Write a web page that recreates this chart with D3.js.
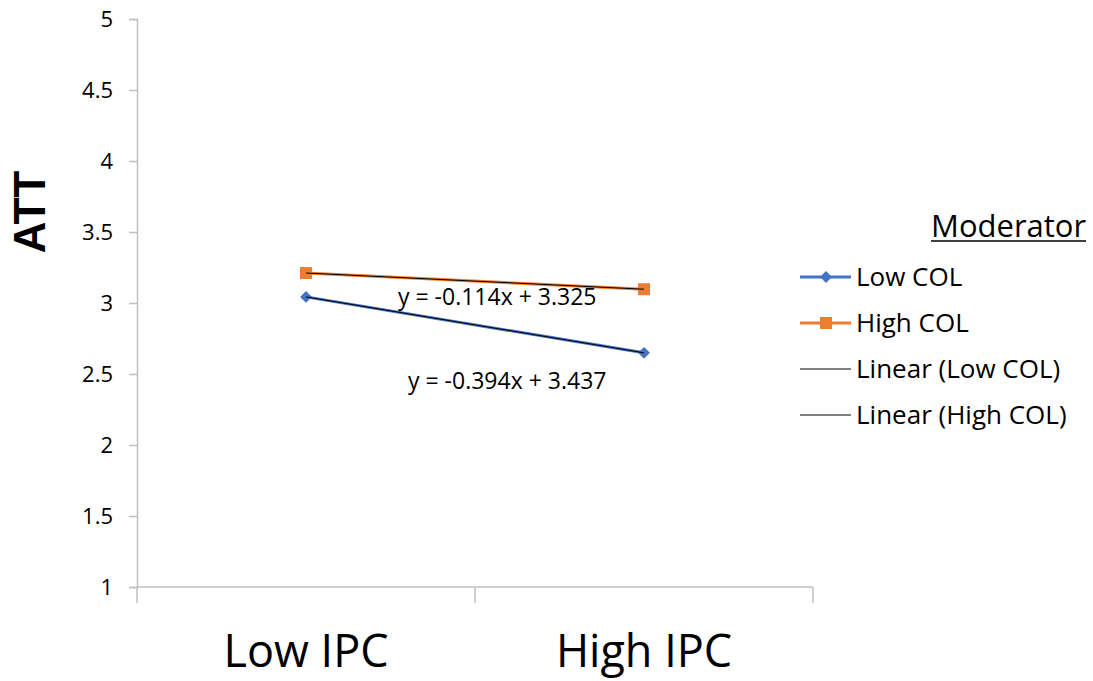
<!DOCTYPE html>
<html>
<head>
<meta charset="utf-8">
<script src="https://cdn.jsdelivr.net/npm/d3@7"></script>
<style>
  body { margin: 0; background: #fff; }
  text { font-family: "Open Sans", sans-serif; fill: #000; }
</style>
</head>
<body>
<script>
// interaction plot, values
var categories = ["Low IPC", "High IPC"],
    lowCOL = [3.043, 2.649],
    highCOL = [3.211, 3.097],
    yTicks = [1, 1.5, 2, 2.5, 3, 3.5, 4, 4.5, 5],
    seriesNames = ["Low COL", "High COL"],
    trendLabels = ["y = -0.394x + 3.437", "y = -0.114x + 3.325"],
    trendSlope = [-0.394, -0.114],
    trendIntercept = [3.437, 3.325];

var W = 1093, H = 681;
var PLOT = {left: 137, right: 813, top: 19, bottom: 587};

var svg = d3.select("body").append("svg")
    .attr("width", W)
    .attr("height", H);

var xScale = d3.scaleBand().domain(categories).range([PLOT.left, PLOT.right]);
var yScale = d3.scaleLinear().domain([1, 5]).range([PLOT.bottom, PLOT.top]);

var axisColor = "#bfbfbf";

// y axis
var yAxis = svg.append("g")
    .attr("transform", "translate(" + PLOT.left + ",0)")
    .call(d3.axisLeft(yScale).tickValues(yTicks).tickSize(8).tickPadding(16)
        .tickFormat(function (d) { return d; }));
yAxis.select(".domain").attr("stroke", axisColor).attr("stroke-width", 1.5);
yAxis.selectAll(".tick line").attr("stroke", axisColor).attr("stroke-width", 1.5);
yAxis.selectAll(".tick text")
    .style("font-family", "'Open Sans', sans-serif")
    .style("font-size", "22px")
    .attr("fill", "#000");

// x axis - ticks on the band edges like Excel
var xAxis = svg.append("g")
    .attr("transform", "translate(0," + PLOT.bottom + ")");
xAxis.append("line")
    .attr("x1", PLOT.left).attr("x2", PLOT.right)
    .attr("stroke", axisColor).attr("stroke-width", 1.5);
var edges = [PLOT.left].concat(categories.map(function (c) { return xScale(c) + xScale.bandwidth(); }));
xAxis.selectAll("line.edge").data(edges).enter().append("line")
    .attr("class", "edge")
    .attr("x1", function (d) { return d; }).attr("x2", function (d) { return d; })
    .attr("y1", 0).attr("y2", 16)
    .attr("stroke", axisColor).attr("stroke-width", 1.5);
xAxis.selectAll("text").data(categories).enter().append("text")
    .attr("x", function (c) { return xScale(c) + xScale.bandwidth() / 2; })
    .attr("y", 80)
    .attr("text-anchor", "middle")
    .style("font-size", "45px")
    .text(function (c) { return c; });

// y title
svg.append("text")
    .attr("transform", "translate(45,212) rotate(-90)")
    .attr("text-anchor", "middle")
    .style("font-family", "'Liberation Sans', Arial, sans-serif")
    .style("font-weight", "bold")
    .style("font-size", "44px")
    .text("ATT");

var cx = function (c) { return xScale(c) + xScale.bandwidth() / 2; };
var colors = ["#4472c4", "#ed7d31"];
var series = [lowCOL, highCOL];

var line = d3.line()
    .x(function (d, i) { return cx(categories[i]); })
    .y(function (d) { return yScale(d); });

series.forEach(function (vals, s) {
    svg.append("path").datum(vals)
        .attr("d", line)
        .attr("fill", "none")
        .attr("stroke", colors[s])
        .attr("stroke-width", 3);
});

// markers
svg.selectAll("path.diamond").data(lowCOL).enter().append("path")
    .attr("class", "diamond")
    .attr("d", d3.symbol().type(d3.symbolDiamond2).size(90))
    .attr("transform", function (d, i) { return "translate(" + cx(categories[i]) + "," + yScale(d) + ")"; })
    .attr("fill", colors[0]);
svg.selectAll("rect.sq").data(highCOL).enter().append("rect")
    .attr("class", "sq")
    .attr("x", function (d, i) { return cx(categories[i]) - 6; })
    .attr("y", function (d) { return yScale(d) - 6; })
    .attr("width", 12).attr("height", 12)
    .attr("fill", colors[1]);

// linear trendlines (x = 1, 2)
trendSlope.forEach(function (m, s) {
    var pts = categories.map(function (c, i) { return trendIntercept[s] + m * (i + 1); });
    svg.append("path").datum(pts)
        .attr("d", line)
        .attr("fill", "none")
        .attr("stroke", "#000")
        .attr("stroke-width", 1);
});

// equation labels
svg.append("text")
    .attr("x", 398).attr("y", 305)
    .style("font-size", "23px")
    .text(trendLabels[1]);
svg.append("text")
    .attr("x", 408).attr("y", 389)
    .style("font-size", "23px")
    .text(trendLabels[0]);

// legend
svg.append("text")
    .attr("x", 931).attr("y", 237)
    .style("font-size", "31px")
    .text("Moderator");
svg.append("line")
    .attr("x1", 931).attr("x2", 1086)
    .attr("y1", 241).attr("y2", 241)
    .attr("stroke", "#000").attr("stroke-width", 1.5);

var legendItems = [
    {label: seriesNames[0], color: colors[0], w: 3, mark: "diamond"},
    {label: seriesNames[1], color: colors[1], w: 3, mark: "square"},
    {label: "Linear (" + seriesNames[0] + ")", color: "#000", w: 1, mark: null},
    {label: "Linear (" + seriesNames[1] + ")", color: "#000", w: 1, mark: null}
];
var lg = svg.selectAll("g.leg").data(legendItems).enter().append("g")
    .attr("class", "leg")
    .attr("transform", function (d, i) { return "translate(800," + (277 + i * 46) + ")"; });
lg.append("line")
    .attr("x1", 0).attr("x2", 51)
    .attr("stroke", function (d) { return d.color; })
    .attr("stroke-width", function (d) { return d.w; });
lg.filter(function (d) { return d.mark === "diamond"; }).append("path")
    .attr("d", d3.symbol().type(d3.symbolDiamond2).size(90))
    .attr("transform", "translate(26,0)")
    .attr("fill", colors[0]);
lg.filter(function (d) { return d.mark === "square"; }).append("rect")
    .attr("x", 20).attr("y", -6).attr("width", 12).attr("height", 12)
    .attr("fill", colors[1]);
lg.append("text")
    .attr("x", 56).attr("y", 0).attr("dy", "0.35em")
    .style("font-size", "26px")
    .text(function (d) { return d.label; });
</script>
</body>
</html>
